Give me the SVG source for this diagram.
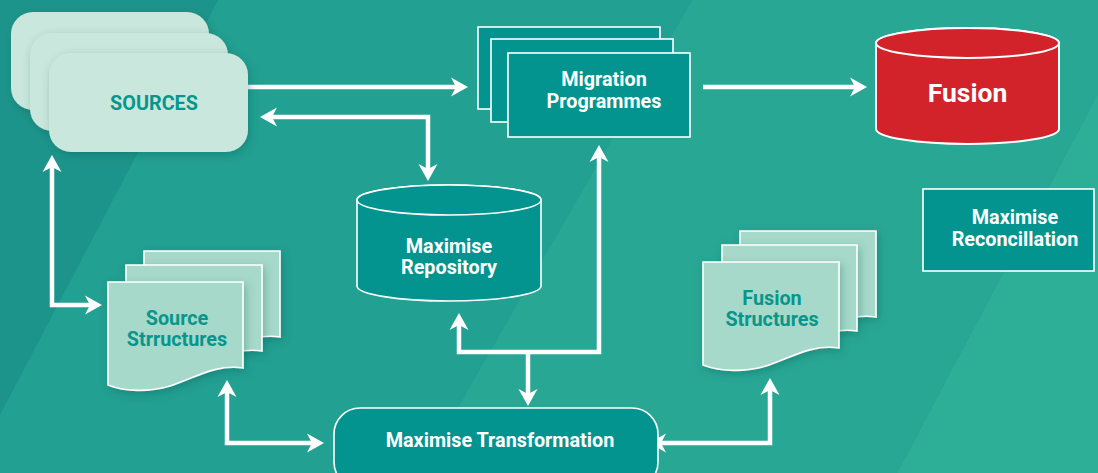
<svg xmlns="http://www.w3.org/2000/svg" width="1098" height="473" viewBox="0 0 1098 473">
<defs>
<filter id="sh" x="-20%" y="-20%" width="140%" height="150%">
<feDropShadow dx="2" dy="3" stdDeviation="4" flood-color="#0b4f48" flood-opacity="0.3"/>
</filter>
<marker id="ah" markerUnits="userSpaceOnUse" markerWidth="20" markerHeight="22" viewBox="0 -11 18 22" refX="5" refY="0" orient="auto-start-reverse">
<path d="M0,-9.5 L17,0 L0,9.5 L5,0 Z" fill="#ffffff"/>
</marker>
<style>
.lbl{font-family:Roboto,"Liberation Sans",sans-serif;font-weight:700;text-anchor:middle;font-size:19.8px}
.w{fill:#ffffff}
.t{fill:#07968c}
.teal{fill:#03948f;stroke:#ffffff;stroke-width:1.6}
.mint{fill:#c9e7dd}
.page{fill:#a6d9ca;stroke:#ffffff;stroke-width:1.6}
.conn{fill:none;stroke:#ffffff;stroke-width:4.5;marker-start:url(#ah);marker-end:url(#ah)}
.one{fill:none;stroke:#ffffff;stroke-width:4.5;marker-end:url(#ah)}
</style>
</defs>
<g id="background">
<rect x="0" y="0" width="1098" height="473" fill="#1d948b"/>
<polygon points="218,0 692,0 420,473 0,473 0,415" fill="#22a092"/>
<polygon points="692,0 1098,0 1098,94 897,473 420,473" fill="#28a794"/>
<polygon points="1098,94 1098,473 897,473" fill="#2daf97"/>
</g>
<g id="connectors">
<path class="one" d="M248,87 H456"/>
<path class="conn" d="M272,117 H428 V169"/>
<path class="one" d="M703,87 H855"/>
<path class="conn" d="M52,167 V305 H90"/>
<path class="conn" d="M227,392 V443 H312"/>
<path class="conn" d="M459,325 V352 H599 V157"/>
<path class="one" d="M528,352 V394"/>
<path class="conn" d="M661,443 H770 V390"/>
</g>
<g id="sources">
<rect class="mint" x="11" y="12" width="198" height="98" rx="22" filter="url(#sh)"/>
<rect class="mint" x="30" y="33" width="198" height="98" rx="22" filter="url(#sh)"/>
<rect class="mint" x="49" y="53" width="199" height="99" rx="22" filter="url(#sh)"/>
<text class="lbl t" x="154" y="110">SOURCES</text>
</g>
<g id="migration-programmes">
<rect class="teal" x="478" y="27" width="182" height="82"/>
<rect class="teal" x="491" y="39" width="182" height="83"/>
<rect class="teal" x="508" y="53" width="182" height="84"/>
<text class="lbl w" x="604" y="86">Migration</text>
<text class="lbl w" x="604" y="108">Programmes</text>
</g>
<g id="fusion">
<path d="M876,43 A91.5,15 0 0 1 1059,43 V129 A91.5,15 0 0 1 876,129 Z" fill="#d2232a" stroke="#ffffff" stroke-width="2"/>
<ellipse cx="967.5" cy="43" rx="91.5" ry="15" fill="#d2232a" stroke="#ffffff" stroke-width="2"/>
<text class="lbl w" x="967.5" y="102" style="font-size:26.5px">Fusion</text>
</g>
<g id="maximise-repository">
<path class="teal" d="M357,200 A92,15 0 0 1 541,200 V286 A92,15 0 0 1 357,286 Z"/>
<ellipse class="teal" cx="449" cy="200" rx="92" ry="15"/>
<text class="lbl w" x="449" y="253">Maximise</text>
<text class="lbl w" x="449" y="274">Repository</text>
</g>
<g id="source-structures">
<path class="page" filter="url(#sh)" d="M144,251 h136 v86 c-28,-4 -48,10 -73,18 c-20,6 -45,6 -63,-1 z"/>
<path class="page" filter="url(#sh)" d="M126,265 h136 v86 c-28,-4 -48,10 -73,18 c-20,6 -45,6 -63,-1 z"/>
<path class="page" filter="url(#sh)" d="M108,282 h135 v86 c-28,-4 -48,10 -73,18 c-20,6 -45,6 -62,-1 z"/>
<text class="lbl t" x="177" y="325">Source</text>
<text class="lbl t" x="177" y="346">Strructures</text>
</g>
<g id="fusion-structures">
<path class="page" filter="url(#sh)" d="M740,231 h136 v86 c-28,-4 -48,10 -73,18 c-20,6 -45,6 -63,-1 z"/>
<path class="page" filter="url(#sh)" d="M722,245 h135 v86 c-28,-4 -48,10 -73,18 c-20,6 -45,6 -62,-1 z"/>
<path class="page" filter="url(#sh)" d="M703,262 h136 v86 c-28,-4 -48,10 -73,18 c-20,6 -45,6 -63,-1 z"/>
<text class="lbl t" x="772" y="305">Fusion</text>
<text class="lbl t" x="772" y="326">Structures</text>
</g>
<g id="maximise-transformation">
<rect class="teal" x="334" y="408" width="324" height="80" rx="26" stroke-width="2"/>
<text class="lbl w" x="500" y="447">Maximise Transformation</text>
</g>
<g id="maximise-reconcillation">
<rect class="teal" x="923" y="189" width="171" height="82" stroke-width="2"/>
<text class="lbl w" x="1015" y="224">Maximise</text>
<text class="lbl w" x="1015" y="246">Reconcillation</text>
</g>
</svg>
